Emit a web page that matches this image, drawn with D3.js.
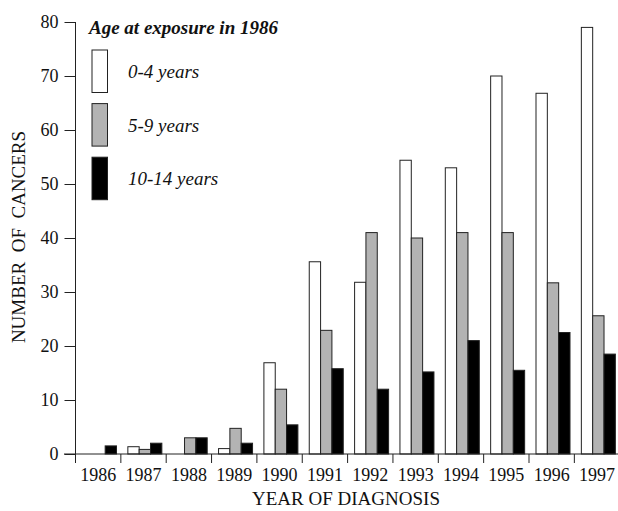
<!DOCTYPE html>
<html>
<head>
<meta charset="utf-8">
<script src="https://cdn.jsdelivr.net/npm/d3@7"></script>
<style>
  body { margin: 0; background: #fff; }
  svg text { font-family: "Liberation Serif", "Times New Roman", serif; fill: #111; }
</style>
</head>
<body>
<svg width="618" height="511"></svg>
<script>
// data
const years = ["1986", "1987", "1988", "1989", "1990", "1991", "1992", "1993", "1994", "1995", "1996", "1997"];
const groups = ["0-4 years", "5-9 years", "10-14 years"];
const age0to4 = [0, 1.35, 0, 1.0, 16.9, 35.6, 31.8, 54.4, 53.0, 70.0, 66.8, 79.0];
const age5to9 = [0, 0.85, 3.0, 4.75, 12.0, 22.9, 41.0, 40.0, 41.0, 41.0, 31.7, 25.6];
const age10to14 = [1.5, 2.0, 3.0, 2.0, 5.4, 15.8, 12.0, 15.2, 21.0, 15.5, 22.5, 18.5];
const yTicks = [0, 10, 20, 30, 40, 50, 60, 70, 80];
const fills = ["#ffffff", "#b3b3b3", "#000000"];

const series = [age0to4, age5to9, age10to14];

const svg = d3.select("svg");

const y = d3.scaleLinear().domain([0, 80]).range([454, 22]);
const x = d3.scaleBand().domain(years).range([75.5, 75.5 + 12 * 45.35]).padding(0);
const xSub = d3.scaleBand().domain(groups).range([7, 41]).padding(0);

// y axis
const yAxis = svg.append("g")
    .attr("transform", "translate(75.5,0)")
    .call(d3.axisLeft(y).tickValues(yTicks).tickSize(11).tickPadding(6));
yAxis.select(".domain").remove();
yAxis.selectAll("line").attr("stroke", "#222");
yAxis.selectAll("text").style("font-size", "18px").attr("fill", "#111");
svg.append("line")
    .attr("x1", 75.5).attr("x2", 75.5)
    .attr("y1", y(80)).attr("y2", 463)
    .attr("stroke", "#222");

// bars
const bars = svg.append("g");
years.forEach((yr, i) => {
    groups.forEach((g, j) => {
        const v = series[j][i];
        if (v <= 0) return;
        bars.append("rect")
            .attr("x", x(yr) + xSub(g))
            .attr("y", y(v))
            .attr("width", xSub.bandwidth())
            .attr("height", y(0) - y(v))
            .attr("fill", fills[j])
            .attr("stroke", "#222")
            .attr("stroke-width", 1);
    });
});

// x axis baseline + boundary ticks
svg.append("line")
    .attr("x1", 64).attr("x2", 618)
    .attr("y1", y(0)).attr("y2", y(0))
    .attr("stroke", "#222");
const bounds = years.map(d => x(d)).concat([x.range()[1]]);
svg.append("g").selectAll("line")
    .data(bounds)
    .enter()
    .append("line")
    .attr("x1", d => d).attr("x2", d => d)
    .attr("y1", y(0)).attr("y2", 463)
    .attr("stroke", "#222");

const xAxis = svg.append("g")
    .attr("transform", "translate(0,454)")
    .call(d3.axisBottom(x).tickSize(0).tickPadding(14));
xAxis.select(".domain").remove();
xAxis.selectAll("text").style("font-size", "18px").attr("fill", "#111");

// axis titles
svg.append("text")
    .attr("x", 346).attr("y", 505)
    .style("text-anchor", "middle")
    .style("font-size", "19px")
    .text("YEAR OF DIAGNOSIS");

svg.append("text")
    .attr("transform", "translate(25,237) rotate(-90)")
    .style("text-anchor", "middle")
    .style("font-size", "19px")
    .style("white-space", "pre")
    .text("NUMBER  OF  CANCERS");

// legend
svg.append("text")
    .attr("x", 89).attr("y", 34)
    .style("font-size", "19px")
    .style("font-style", "italic")
    .style("font-weight", "bold")
    .text("Age at exposure in 1986");

const legend = svg.append("g");
legend.selectAll("rect")
    .data(groups)
    .enter()
    .append("rect")
    .attr("x", 92)
    .attr("y", (d, i) => 50 + i * 53.6)
    .attr("width", 15.5)
    .attr("height", 42.5)
    .attr("fill", (d, i) => fills[i])
    .attr("stroke", "#222");
legend.selectAll("text")
    .data(groups)
    .enter()
    .append("text")
    .attr("x", 128)
    .attr("y", (d, i) => 78 + i * 53.6)
    .style("font-size", "19px")
    .style("font-style", "italic")
    .text(d => d);
</script>
</body>
</html>
